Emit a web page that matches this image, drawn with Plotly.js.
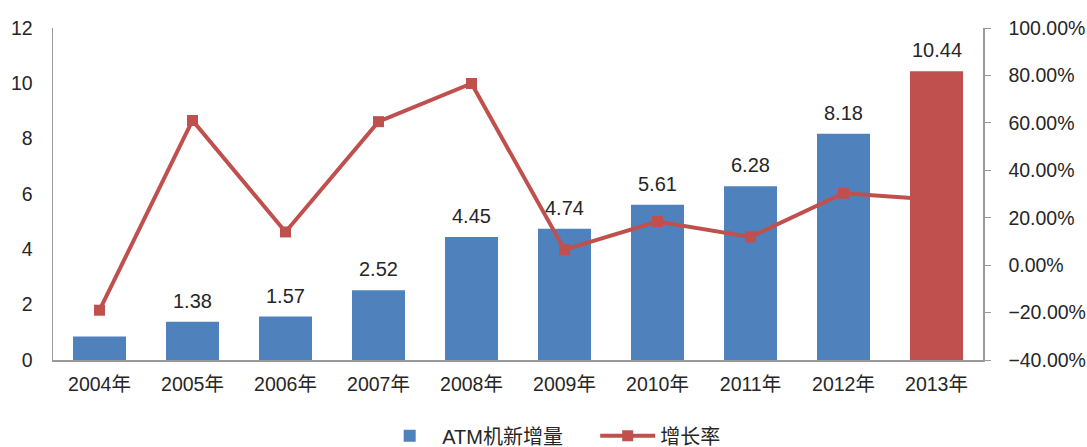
<!DOCTYPE html>
<html><head><meta charset="utf-8">
<script src="https://cdn.plot.ly/plotly-3.0.1.min.js"></script>
<style>html,body{margin:0;padding:0;background:#fff}#c{width:1087px;height:447px}</style>
</head><body><div id="c"></div>
<script>
const years = ["2004年","2005年","2006年","2007年","2008年","2009年","2010年","2011年","2012年","2013年"];
const atmNew = [0.85, 1.38, 1.57, 2.52, 4.45, 4.74, 5.61, 6.28, 8.18, 10.44];
const atmLabels = ["", "1.38", "1.57", "2.52", "4.45", "4.74", "5.61", "6.28", "8.18", "10.44"];
const growth = [-0.19, 0.61, 0.14, 0.605, 0.766, 0.065, 0.184, 0.119, 0.303, 0.276];
const barColors = ["#4F81BD","#4F81BD","#4F81BD","#4F81BD","#4F81BD","#4F81BD","#4F81BD","#4F81BD","#4F81BD","#C0504D"];

const fam = "Liberation Sans, Arial, Noto Sans CJK SC, sans-serif";
const txtColor = "#262626";
const annotations = years.map((yr, i) => ({
  x: yr, y: atmNew[i], xref: "x", yref: "y", text: atmLabels[i], showarrow: false,
  yanchor: "bottom", yshift: 8, font: {family: fam, size: 20, color: txtColor}
}));
const data = [
  {type: "bar", name: "ATM机新增量", x: years, y: atmNew,
   marker: {color: barColors}, hoverinfo: "y"},
  {type: "scatter", mode: "lines+markers", name: "增长率", x: years, y: growth, yaxis: "y2",
   line: {color: "#C0504D", width: 4}, marker: {symbol: "square", size: 11, color: "#C0504D"}}
];
const layout = {
  width: 1087, height: 447,
  margin: {l: 53, r: 104, t: 28, b: 87},
  paper_bgcolor: "#fff", plot_bgcolor: "#fff",
  font: {family: fam, size: 20, color: txtColor},
  bargap: 0.43,
  showlegend: true,
  annotations: annotations,
  legend: {orientation: "h", x: 0.347, xref: "container", xanchor: "left",
           y: 0.025, yref: "container", yanchor: "middle", itemwidth: 55, entrywidth: 148,
           font: {family: fam, size: 20, color: txtColor}},
  xaxis: {type: "category", range: [-0.5, years.length - 0.5], showline: true, linecolor: "#9a9a9a", linewidth: 1.5, ticks: "",
          tickfont: {size: 19.5}, showgrid: false, ticklabelstandoff: 6, automargin: false},
  yaxis: {range: [0, 12], dtick: 2, showline: true, linecolor: "#9a9a9a", linewidth: 1.5, showgrid: false,
          zeroline: false, ticks: "", tickfont: {size: 19.5}, ticklabelstandoff: 15, automargin: false},
  yaxis2: {overlaying: "y", side: "right", range: [-0.4, 1.0], dtick: 0.2, tickformat: ".2%",
           showline: true, linecolor: "#9a9a9a", linewidth: 1.5, showgrid: false, zeroline: false,
           ticks: "outside", ticklen: 6, tickcolor: "#9a9a9a", tickfont: {size: 19.5}, ticklabelstandoff: 14,
           automargin: false}
};
Plotly.newPlot("c", data, layout, {displayModeBar: false, staticPlot: true});
</script></body></html>
